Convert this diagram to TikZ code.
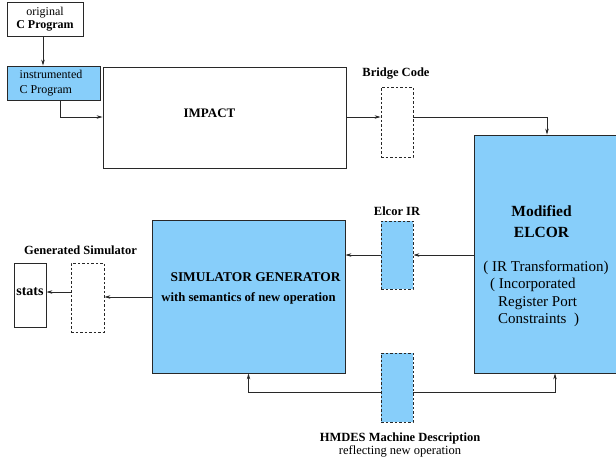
\documentclass[tikz,border=0pt]{standalone}
\usepackage{fontspec}
\setmainfont{Liberation Serif}
\usetikzlibrary{arrows.meta}
\definecolor{boxblue}{RGB}{135,206,250}
\definecolor{linegray}{RGB}{40,40,40}
\begin{document}
\begin{tikzpicture}[x=1pt,y=-1pt,
  box/.style={draw=linegray,line width=0.8pt,rectangle,inner sep=0pt},
  bluebox/.style={box,fill=boxblue},
  dbox/.style={box,dashed,dash pattern=on 2.5pt off 2pt},
  arr/.style={draw=linegray,line width=0.8pt,-{Stealth[length=6pt,width=3.5pt]}},
  ln/.style={draw=linegray,line width=0.8pt},
  lbl/.style={inner sep=0pt,font=\fontsize{12.5}{14}\selectfont\bfseries},
  txt/.style={inner sep=0pt}]
\useasboundingbox (0,0) rectangle (616,464);
% boxes
\node[box,minimum width=76,minimum height=34] (orig) at (45,19) {};
\node[bluebox,minimum width=93,minimum height=34] (instr) at (53.5,83) {};
\node[box,minimum width=243,minimum height=101] (impact) at (224.5,117.5) {};
\node[dbox,minimum width=32,minimum height=70] (bridge) at (397,122) {};
\node[bluebox,minimum width=142,minimum height=238] (elcor) at (545,254) {};
\node[bluebox,dbox,fill=boxblue,minimum width=32,minimum height=68] (elcorir) at (397,255) {};
\node[bluebox,minimum width=193,minimum height=153] (simgen) at (248.5,296.5) {};
\node[dbox,minimum width=33,minimum height=69] (gensim) at (87.5,297.5) {};
\node[box,minimum width=32,minimum height=64] (stats) at (30,295) {};
\node[bluebox,dbox,fill=boxblue,minimum width=32,minimum height=69] (hmdes) at (397,387.5) {};
% texts
\node[txt,align=center,font=\fontsize{12}{12.5}\selectfont] (origt) at (45,19) {original\\\textbf{C Program}};
\node[txt,align=left,font=\fontsize{12}{14.5}\selectfont] (instrt) at (51,83) {instrumented\\C Program};
\node[lbl,font=\fontsize{13}{15}\selectfont\bfseries] (impactt) at (209.5,113) {IMPACT};
\node[lbl] (bridget) at (396,74) {Bridge Code};
\node[lbl] (elcorirt) at (397,211) {Elcor IR};
\node[lbl] (gensimt) at (80.5,250) {Generated Simulator};
\node[lbl,font=\fontsize{14}{16}\selectfont\bfseries] (statst) at (30,292) {stats};
\node[lbl,font=\fontsize{13.4}{15}\selectfont\bfseries] (simgent1) at (255.5,277) {SIMULATOR GENERATOR};
\node[lbl,font=\fontsize{12.7}{15}\selectfont\bfseries] (simgent2) at (248.5,298) {with semantics of new operation};
\node[lbl,font=\fontsize{15.5}{21}\selectfont\bfseries,align=center] (elcort) at (541.5,221.5) {Modified\\ELCOR};
\node[txt,font=\fontsize{15}{18}\selectfont] (elc1) at (546,268) {( IR Transformation)};
\node[txt,font=\fontsize{15}{18}\selectfont,anchor=west] (elc2) at (490,285) {( Incorporated};
\node[txt,font=\fontsize{15}{18}\selectfont,anchor=west] (elc3) at (498,303) {Register Port};
\node[txt,font=\fontsize{15}{18}\selectfont,anchor=west] (elc4) at (498,320) {Constraints\ \ )};
\node[lbl] (hmdest1) at (400,438) {HMDES Machine Description};
\node[txt,font=\fontsize{12.5}{14}\selectfont] (hmdest2) at (400,451) {reflecting new operation};
% connectors
\draw[arr] (orig.south -| 43,0) -- (instr.north -| 43,0);
\draw[arr] (instr.south -| 60,0) |- (impact.west |- 0,117);
\draw[arr] (impact.east |- 0,117) -- (bridge.west |- 0,117);
\draw[arr] (bridge.east |- 0,117) -| (elcor.north -| 547,0);
\draw[arr] (elcor.west |- 0,255) -- (elcorir.east);
\draw[arr] (elcorir.west) -- (simgen.east |- 0,255);
\draw[arr] (simgen.west |- 0,297) -- (gensim.east |- 0,297);
\draw[arr] (gensim.west |- 0,292) -- (stats.east |- 0,292);
\draw[arr] (hmdes.west |- 0,392) -| (simgen.south);
\draw[arr] (hmdes.east |- 0,392) -| (elcor.south -| 555,0);
\end{tikzpicture}
\end{document}
